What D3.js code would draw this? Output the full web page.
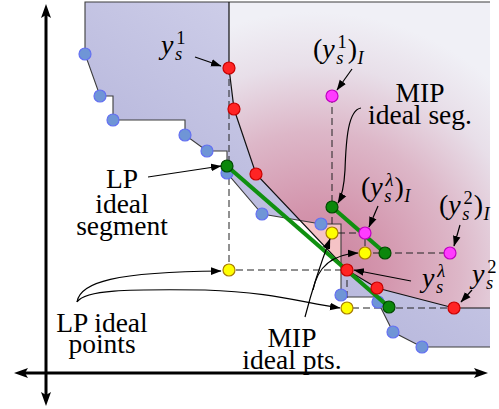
<!DOCTYPE html>
<html><head><meta charset="utf-8">
<script src="https://cdn.jsdelivr.net/npm/d3@7"></script>
</head><body style="margin:0">
<svg id="c" width="499" height="409" style="display:block" font-family="Liberation Serif"></svg>
<script>
// ---------- data (objective space units) ----------
// integer feasible points (blue)
const blueX = [9.75, 13.5, 16.75, 34.75, 40.25, 45.25, 54, 68.75, 73.75, 83, 86.75, 94];
const blueY = [79.75, 69.25, 63.25, 59.5, 55.5, 50, 39.75, 37.25, 19.5, 17.75, 10.25, 6.5];
// feasible region lower boundary (staircase)
const regionX = [9.75, 9.75, 13.5, 16.75, 16.75, 34.75, 34.75, 40.25, 45.25, 45.25, 54, 68.75, 73.75, 73.75, 82.25, 83, 86.75, 94, 111];
const regionY = [92.75, 79.75, 69.25, 69.25, 63.25, 63.25, 59.5, 55.5, 55.5, 50, 39.75, 37.25, 37.25, 19, 19, 17.75, 10.25, 6.5, 6.5];
const regionTop = 92.75, regionRight = 111;
// nondominated frontier points (red): y_s^1 ... y_s^lambda ... y_s^2
const redX = [45.75, 47, 52.5, 75.25, 82.75, 102];
const redY = [76.25, 66, 49.75, 25.75, 21.25, 16.25];
// LP ideal segment & MIP ideal segment (green)
const lpSegX = [45.25, 85.75], lpSegY = [51.75, 16.5];
const mipSegX = [71.5, 84.75], mipSegY = [41.5, 30];
// MIP ideal of each point (magenta): (y_s^1)_I, (y_s^l)_I, (y_s^2)_I
const magX = [71.5, 79.75, 101], magY = [69.25, 35, 30];
// ideal points (yellow)
const lpIdealX = [45.75, 75.25], lpIdealY = [25.75, 16.25];
const mipIdealX = [71.5, 79.75], mipIdealY = [35, 30];

// ---------- scales ----------
const x = d3.scaleLinear().domain([0, 110]).range([46, 486]);
const y = d3.scaleLinear().domain([0, 92]).range([373, 5]);
const svg = d3.select('#c');
const defs = svg.append('defs');
const P = (xs, ys) => xs.map((v, i) => [x(v), y(ys[i])]);
const line = d3.line();

// gradients
const lav = defs.append('linearGradient').attr('id', 'lav').attr('gradientUnits', 'userSpaceOnUse')
  .attr('x1', x(10)).attr('y1', y(18)).attr('x2', x(64)).attr('y2', y(93));
lav.append('stop').attr('offset', 0).attr('stop-color', '#a9a9d4');
lav.append('stop').attr('offset', 1).attr('stop-color', '#d2d2eb');
const pk = defs.append('radialGradient').attr('id', 'pink').attr('gradientUnits', 'userSpaceOnUse')
  .attr('cx', x(67)).attr('cy', y(24)).attr('r', 265);
[[0, '#c97f9b'], [0.25, '#d394ac'], [0.55, '#ddb7c8'], [0.8, '#e8dfe9'], [1, '#f0f0f6']]
  .forEach(([o, c]) => pk.append('stop').attr('offset', o).attr('stop-color', c));

// marker
defs.append('marker').attr('id', 'ah').attr('markerUnits', 'userSpaceOnUse')
  .attr('viewBox', '0 -5 12 10').attr('markerWidth', 12).attr('markerHeight', 10)
  .attr('refX', 10).attr('refY', 0).attr('orient', 'auto')
  .append('path').attr('d', 'M0,-3.8 L10.5,0 L0,3.8 Z').attr('fill', '#000');

// ---------- regions ----------
const regionPoly = P(regionX, regionY).concat([[x(regionRight), y(regionTop)]]);
const pinkPoly = [[x(redX[0]), y(regionTop)], [x(regionRight), y(regionTop)], [x(regionRight), y(redY[redY.length - 1])]]
  .concat(P(redX, redY).reverse());

defs.append('clipPath').attr('id', 'regclip').append('path').attr('d', line(regionPoly) + 'Z');

svg.append('path').attr('d', line(pinkPoly) + 'Z').attr('fill', '#f5c3c6');
svg.append('path').attr('d', line(regionPoly) + 'Z').attr('fill', 'url(#lav)');
svg.append('path').attr('d', line(pinkPoly) + 'Z').attr('fill', 'url(#pink)').attr('clip-path', 'url(#regclip)');

// boundary strokes
svg.append('path').attr('d', line([[x(regionRight), y(regionTop)]].concat(P(regionX, regionY))))
  .attr('fill', 'none').attr('stroke', '#3c3c3c').attr('stroke-width', 1.1);
svg.append('path').attr('d', line([[x(redX[0]), y(regionTop)]].concat(P(redX, redY)).concat([[x(regionRight), y(redY[redY.length - 1])]])))
  .attr('fill', 'none').attr('stroke', '#111').attr('stroke-width', 1.2);

// dashed staircases
const dashLP = [[redX[0], redY[0]], [lpIdealX[0], lpIdealY[0]], [redX[3], redY[3]], [lpIdealX[1], lpIdealY[1]], [redX[5], redY[5]]];
const dashMIP = [[magX[0], magY[0]], [mipIdealX[0], mipIdealY[0]], [magX[1], magY[1]], [mipIdealX[1], mipIdealY[1]], [magX[2], magY[2]]];
[dashLP, dashMIP].forEach(d => svg.append('path').attr('d', line(d.map(p => [x(p[0]), y(p[1])])))
  .attr('fill', 'none').attr('stroke', '#222').attr('stroke-width', 1).attr('stroke-dasharray', '7,4'));

// points
function dots(xs, ys, fill, stroke) {
  svg.append('g').selectAll('circle').data(xs).join('circle')
    .attr('cx', d => x(d)).attr('cy', (d, i) => y(ys[i])).attr('r', 6)
    .attr('fill', fill).attr('stroke', stroke).attr('stroke-width', 1.2);
}
dots(blueX, blueY, '#6f95d6', '#6470f2');
// green segments
[[lpSegX, lpSegY], [mipSegX, mipSegY]].forEach(([sx, sy]) =>
  svg.append('path').attr('d', line(P(sx, sy))).attr('stroke', '#109010').attr('stroke-width', 4.2).attr('fill', 'none'));
dots(redX, redY, '#ff2424', '#c80000');
dots(magX, magY, '#ff3cff', '#c000c0');
dots(lpIdealX, lpIdealY, '#ffff00', '#a87c00');
dots(mipIdealX, mipIdealY, '#ffff00', '#a87c00');
dots([lpSegX[0], lpSegX[1], mipSegX[0], mipSegX[1]], [lpSegY[0], lpSegY[1], mipSegY[0], mipSegY[1]], '#0b870b', '#004a00');

// ---------- annotation arrows ----------
const straight = [
  [[37.25, 79], [43.75, 76.75]],
  [[76.5, 76], [72.75, 70.75]],
  [[83, 41.75], [80.75, 36.5]],
  [[103.5, 37], [102, 31.75]],
  [[91.25, 23], [77, 25.75]],
  [[106.5, 20.75], [103.75, 17.75]],
  [[25.5, 49], [43.75, 51.75]]
];
straight.forEach(s => svg.append('path').attr('d', line(s.map(p => [x(p[0]), y(p[1])])))
  .attr('stroke', '#000').attr('stroke-width', 1.2).attr('fill', 'none').attr('marker-end', 'url(#ah)'));
const curves = [
  [[78.75, 66.25], [75.5, 65.75], [75, 58.25], [74.75, 50.75], [74.5, 46.25], [74, 44.25], [73, 42.5]],
  [[7.75, 17.75], [8.5, 22.75], [17.25, 25.25], [43.75, 25.5]],
  [[7.75, 17.75], [9.75, 20.75], [19.75, 21], [39.75, 20.75], [56, 20.25], [63.5, 17.75], [73.5, 16.25]],
  [[64.75, 14], [66.5, 20.75], [69, 28.25], [71, 33.5]],
  [[66.75, 20.75], [68, 27], [72.25, 29.75], [78, 30]]
];
function bez(pts) {
  const q = pts.map(p => [x(p[0]), y(p[1])]);
  let d = 'M' + q[0];
  for (let i = 1; i + 2 <= q.length - 1; i += 3) d += 'C' + q[i] + ' ' + q[i + 1] + ' ' + q[i + 2];
  return d;
}
curves.forEach(c => svg.append('path').attr('d', bez(c))
  .attr('stroke', '#000').attr('stroke-width', 1.2).attr('fill', 'none').attr('marker-end', 'url(#ah)'));

// ---------- axes ----------
function arrowHead(tx, ty, ang) {
  const L = 14, H = 5, b = 3;
  const c = Math.cos(ang), s = Math.sin(ang);
  const pt = (u, v) => [tx - u * c - v * s, ty - u * s + v * c];
  svg.append('path').attr('d', line([pt(0, 0), pt(L, -H), pt(L - b, 0), pt(L, H)]) + 'Z').attr('fill', '#000');
}
svg.append('line').attr('x1', x(0)).attr('x2', x(0)).attr('y1', y(92.25) + 10).attr('y2', y(-8.25) - 10)
  .attr('stroke', '#000').attr('stroke-width', 3);
svg.append('line').attr('y1', y(0)).attr('y2', y(0)).attr('x1', x(-8) + 10).attr('x2', x(110.5) - 10)
  .attr('stroke', '#000').attr('stroke-width', 3);
arrowHead(x(0), y(92.25), -Math.PI / 2);
arrowHead(x(0), y(-8.25), Math.PI / 2);
arrowHead(x(-8), y(0), Math.PI);
arrowHead(x(110.5), y(0), 0);

// ---------- text ----------
const tg = svg.append('g').attr('fill', '#000').attr('font-family', 'Liberation Serif');
function word(t, cx, b) {
  tg.append('text').attr('x', x(cx)).attr('y', y(b)).attr('text-anchor', 'middle')
    .attr('font-family', 'Liberation Serif').attr('font-size', 27.5).text(t);
}
// math label from tokens: [text, size, italic, dx, baselineShift]
function math(x0, b, toks) {
  const t = tg.append('text').attr('x', x(x0)).attr('y', y(b))
    .attr('font-family', 'Liberation Serif').attr('font-size', 27);
  let cur = 0;
  toks.forEach(([s, size, it, dx, shift]) => {
    t.append('tspan').attr('font-size', size).attr('font-style', it ? 'italic' : 'normal')
      .attr('dx', dx).attr('dy', shift - cur).text(s);
    cur = shift;
  });
}
const Y = ['y', 28, true, 0, 0];
const supSub = (sup, supIt) => [['s', 18.5, true, 1.5, 6], [sup, 18.5, supIt, -6, -10]];
const close = (dx) => [[')', 28, false, dx, 0], ['I', 18.5, true, 0.5, 6]];
math(28.75, 79.75, [Y, ...supSub('1', false)]);
math(66.75, 78.75, [['(', 28, false, 0, 0], Y, ...supSub('1', false), ...close(1)]);
word('MIP', 93.5, 67.75);
word('ideal seg.', 93.5, 62.25);
math(78.75, 44.25, [['(', 28, false, 0, 0], Y, ...supSub('λ', true), ...close(1)]);
math(98.25, 39.75, [['(', 28, false, 0, 0], Y, ...supSub('2', false), ...close(1)]);
math(94, 21.5, [Y, ...supSub('λ', true)]);
math(106.5, 22.5, [Y, ...supSub('2', false)]);
word('LP', 19, 46.25);
word('ideal', 19, 40);
word('segment', 19, 34.5);
word('LP ideal', 14, 10.25);
word('points', 14, 5);
word('MIP', 61.5, 6.5);
word('ideal pts.', 61.5, 1);
</script>
</body></html>
